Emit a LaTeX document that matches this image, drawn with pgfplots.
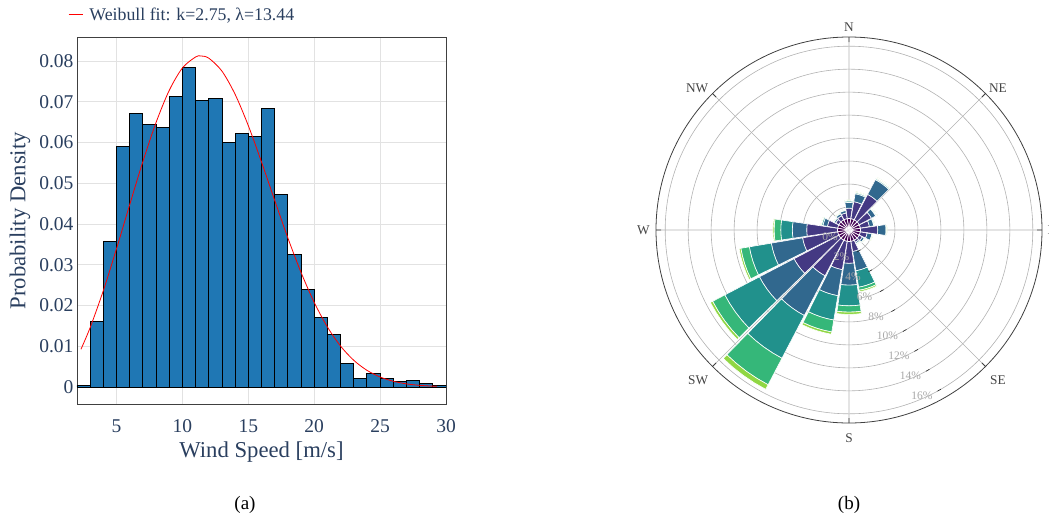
\documentclass[border=0pt]{standalone}
\usepackage{fontspec}
\setmainfont{Liberation Serif}
\usepackage{pgfplots}
\usepackage{pgfplotstable}
\usepgfplotslibrary{polar}
\pgfplotsset{compat=1.18}
\definecolor{histblue}{HTML}{1F77B4}
\definecolor{pfont}{HTML}{2A3F5F}
\definecolor{gridc}{HTML}{E2E2E2}
\definecolor{v1}{HTML}{440154}
\definecolor{v2}{HTML}{443983}
\definecolor{v3}{HTML}{31688E}
\definecolor{v4}{HTML}{21918C}
\definecolor{v5}{HTML}{35B779}
\definecolor{v6}{HTML}{90D743}
\definecolor{labgray}{HTML}{444444}
\definecolor{radgray}{HTML}{A8A8A8}
\definecolor{fitred}{HTML}{FF0000}

% wind rose: bearing (deg, clockwise from N) and cumulative frequency (%) of six speed bins
\pgfplotstableread{
b   r1   r2   r3    r4    r5    r6
0   1.0  1.9  2.4   2.52  2.58  2.62
18  1.0  2.5  3.2   3.30  3.36  3.40
36  1.0  3.5  4.95  5.05  5.13  5.20
54  1.0  2.2  2.62  2.70  2.76  2.80
72  1.0  1.8  2.18  2.24  2.28  2.30
90  1.0  2.5  3.22  3.27  3.30  3.32
108 1.0  1.6  2.02  2.07  2.10  2.12
126 1.0  1.3  1.50  1.56  1.59  1.60
144 1.0  1.2  1.33  1.37  1.40  1.42
162 1.0  1.9  3.60  5.05  5.32  5.45
180 1.0  2.9  4.80  6.60  7.15  7.35
198 1.0  3.5  5.80  7.95  9.00  9.20
216 1.0  4.5  8.40  12.60 15.20 15.65
234 1.0  5.4  8.80  12.20 13.40 13.62
252 1.0  4.1  6.86  8.80  9.55  9.70
270 1.0  3.68 4.93  5.94  6.52  6.63
288 1.0  1.9  2.30  2.42  2.48  2.52
306 1.0  1.3  1.45  1.50  1.53  1.55
324 1.0  1.4  1.60  1.65  1.68  1.70
342 1.0  1.5  1.72  1.78  1.82  1.85
}\rosedata

\newcommand\windsector[4]{%
  \pgfmathsetmacro\phic{90-#1}%
  \pgfmathsetmacro\pa{\phic-8.4}%
  \pgfmathsetmacro\pb{\phic-4.2}%
  \pgfmathsetmacro\pc{\phic+4.2}%
  \pgfmathsetmacro\pd{\phic+8.4}%
  \edef\tmp{\noexpand\addplot[fill=#4, draw=white, line width=0.6pt] coordinates {(\pa,#2) (\pa,#3) (\pb,#3) (\phic,#3) (\pc,#3) (\pd,#3) (\pd,#2) (\pc,#2) (\phic,#2) (\pb,#2)} --cycle;}%
  \tmp
}

\begin{document}
\begin{tikzpicture}
\path[use as bounding box] (0pt,0pt) rectangle (1049pt,515pt);

\begin{axis}[
  at={(77pt,110.7pt)}, anchor=south west,
  scale only axis, width=369pt, height=367pt,
  xmin=2, xmax=30, ymin=-0.00425, ymax=0.0858,
  xtick={5,10,15,20,25,30},
  ytick={0,0.01,0.02,0.03,0.04,0.05,0.06,0.07,0.08},
  yticklabels={0,0.01,0.02,0.03,0.04,0.05,0.06,0.07,0.08},
  scaled y ticks=false,
  xmajorgrids, ymajorgrids,
  grid style={color=gridc, line width=0.8pt},
  axis line style={color=black!75, line width=0.9pt},
  major tick length=0pt,
  tick label style={font=\fontsize{19.5}{20}\selectfont, text=pfont},
  /pgf/number format/assume math mode=true,
  xlabel={Wind Speed [m/s]}, ylabel={Probability Density},
  label style={font=\fontsize{22.7}{24}\selectfont, text=pfont},
  xlabel style={at={(axis description cs:0.5,-0.13)}, anchor=center},
  ylabel style={at={(axis description cs:-0.1545,0.5)}, anchor=center},
  xticklabel style={anchor=base, yshift=-27.7pt},
  legend style={at={(axis description cs:-0.0244,1.0608)}, anchor=west, draw=none, fill=none,
    font=\fontsize{17.8}{19}\selectfont, inner sep=0pt},
  legend cell align=left,
]
\addplot[ybar interval, fill=histblue, draw=black, line width=0.9pt, forget plot] coordinates {
(2,0.0004) (3,0.0160) (4,0.0357) (5,0.0591) (6,0.0671) (7,0.0643) (8,0.0637) (9,0.0713)
(10,0.0784) (11,0.0703) (12,0.0708) (13,0.0601) (14,0.0622) (15,0.0615) (16,0.0683)
(17,0.0472) (18,0.0325) (19,0.0240) (20,0.0170) (21,0.0130) (22,0.0058) (23,0.0020)
(24,0.0034) (25,0.0022) (26,0.0013) (27,0.0015) (28,0.0009) (29,0.0003) (30,0.0003)};
\addplot[color=fitred, line width=0.8pt, smooth, forget plot] coordinates {
(2.3,0.00925) (3,0.01459) (4,0.02367) (5,0.03394) (6,0.04474) (7,0.05533) (8,0.06491)
(9,0.07278) (10,0.07828) (11,0.08098) (11.4,0.08122) (12,0.08068) (13,0.07750) (14,0.07179)
(15,0.06412) (16,0.05521) (17,0.04580) (18,0.03657) (19,0.02811) (20,0.02076) (21,0.01473)
(22,0.01003) (23,0.00655) (24,0.00409) (25,0.00245) (26,0.00140) (27,0.00076) (28,0.00040)
(29,0.00020) (29.3,0.00016)};
\addlegendimage{legend image code/.code={\draw[color=fitred, line width=1pt] (0pt,0pt) -- (14pt,0pt); \path (18.5pt,0pt);}}
\addlegendentry{\textcolor{pfont}{Weibull fit: k=2.75, λ=13.44}}
\end{axis}

\begin{polaraxis}[
  at={(849pt,285pt)}, anchor=center,
  scale only axis, width=386pt, height=386pt,
  clip=false,
  xmin=0, xmax=360, ymin=0, ymax=16.8,
  xtick={0,45,...,315}, xticklabels={},
  ytick={2,4,...,16}, yticklabels={},
  xmajorgrids, ymajorgrids,
  grid style={color=black!30, line width=0.6pt},
  axis line style={color=black!75, line width=0.8pt},
  y axis line style={draw=none},
  xtick style={color=black!75, line width=0.8pt},
  ytick style={draw=none},
  tick align=outside, major tick length=5pt,
]
\pgfplotsinvokeforeach{0,...,19}{
  \pgfplotstablegetelem{#1}{b}\of\rosedata \let\vb\pgfplotsretval
  \pgfplotstablegetelem{#1}{r1}\of\rosedata \let\vra\pgfplotsretval
  \pgfplotstablegetelem{#1}{r2}\of\rosedata \let\vrb\pgfplotsretval
  \pgfplotstablegetelem{#1}{r3}\of\rosedata \let\vrc\pgfplotsretval
  \pgfplotstablegetelem{#1}{r4}\of\rosedata \let\vrd\pgfplotsretval
  \pgfplotstablegetelem{#1}{r5}\of\rosedata \let\vre\pgfplotsretval
  \pgfplotstablegetelem{#1}{r6}\of\rosedata \let\vrf\pgfplotsretval
  \windsector{\vb}{0}{\vra}{v1}
  \windsector{\vb}{\vra}{\vrb}{v2}
  \windsector{\vb}{\vrb}{\vrc}{v3}
  \windsector{\vb}{\vrc}{\vrd}{v4}
  \windsector{\vb}{\vrd}{\vre}{v5}
  \windsector{\vb}{\vre}{\vrf}{v6}
}
\pgfplotsinvokeforeach{0,2,4,6,8,10,12,14,16}{
  \node[font=\fontsize{11.5}{12}\selectfont, text=radgray, xshift=-19pt, yshift=-6.7pt] at (axis cs:-60,#1) {#1\%};
}
\pgfplotsinvokeforeach{2,4,6,8,10,12,14,16}{
  \draw[black!85, line width=0.6pt] (axis cs:-60,#1) -- ++(-3.5pt,-2pt);
}
\node[font=\fontsize{13.3}{14}\selectfont, text=labgray] at (axis cs:90,17.65) {N};
\node[font=\fontsize{13.3}{14}\selectfont, text=labgray] at (axis cs:43.6,17.9) {NE};
\node[font=\fontsize{13.3}{14}\selectfont, text=labgray] at (axis cs:136.9,18.1) {NW};
\node[font=\fontsize{13.3}{14}\selectfont, text=labgray] at (axis cs:180,17.9) {W};
\node[font=\fontsize{13.3}{14}\selectfont, text=labgray] at (axis cs:224.8,18.5) {SW};
\node[font=\fontsize{13.3}{14}\selectfont, text=labgray] at (axis cs:270,18.1) {S};
\node[font=\fontsize{13.3}{14}\selectfont, text=labgray] at (axis cs:314.8,18.4) {SE};
\node[font=\fontsize{13.3}{14}\selectfont, text=labgray] at (axis cs:0,17.65) {E};
\end{polaraxis}

\node[font=\fontsize{19}{22}\selectfont] at (245pt,10pt) {(a)};
\node[font=\fontsize{19}{22}\selectfont] at (849pt,10pt) {(b)};
\end{tikzpicture}
\end{document}
